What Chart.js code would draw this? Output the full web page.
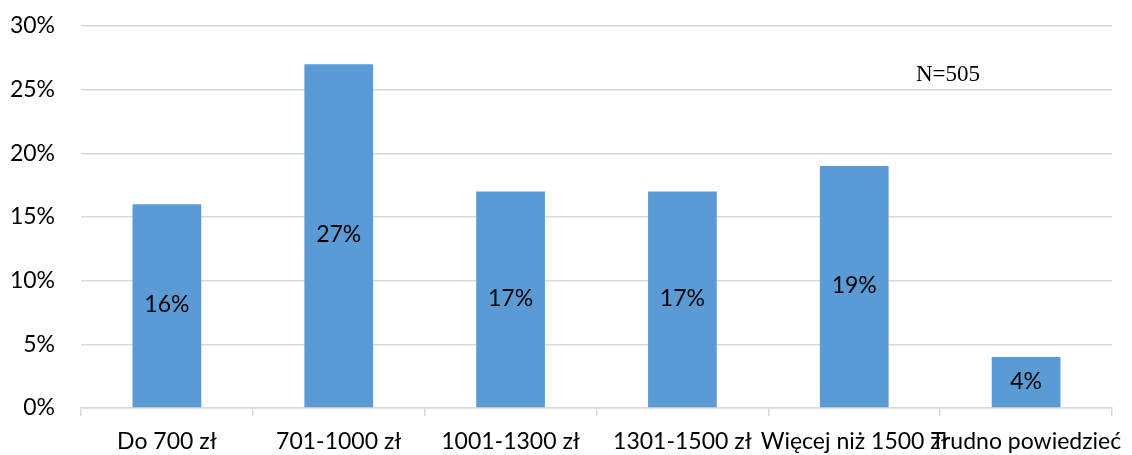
<!DOCTYPE html>
<html>
<head>
<meta charset="utf-8">
<script src="https://cdn.jsdelivr.net/npm/chart.js@4/dist/chart.umd.min.js"></script>
<style>
  html, body { margin: 0; padding: 0; background: #fff; }
  #wrap { width: 1132px; height: 455px; position: relative; }
</style>
</head>
<body>
<div id="wrap"><canvas id="c"></canvas></div>
<script>
// Income brackets and share of respondents (%)
const categories = ['Do 700 zł', '701-1000 zł', '1001-1300 zł', '1301-1500 zł', 'Więcej niż 1500 zł', 'Trudno powiedzieć'];
const shares = [16, 27, 17, 17, 19, 4];
const yTicks = [0, 5, 10, 15, 20, 25, 30];
const sampleNote = 'N=505';

const FONT = 'Lato, "Open Sans", sans-serif';
const FONT_SIZE = 23;

// Writes each bar's value in the middle of the bar
const valueLabels = {
  id: 'valueLabels',
  afterDatasetsDraw(chart) {
    const ctx = chart.ctx;
    const meta = chart.getDatasetMeta(0);
    ctx.save();
    ctx.font = FONT_SIZE + 'px ' + FONT;
    ctx.fillStyle = '#000';
    ctx.textAlign = 'center';
    ctx.textBaseline = 'middle';
    meta.data.forEach((bar, i) => {
      const mid = (bar.y + bar.base) / 2;
      ctx.fillText(shares[i] + '%', bar.x, mid - 1);
    });
    ctx.restore();
  }
};

// Sample-size note in the upper right of the plot
const noteLabel = {
  id: 'noteLabel',
  afterDraw(chart) {
    const ctx = chart.ctx;
    const area = chart.chartArea;
    ctx.save();
    ctx.font = '23px "Liberation Serif", "Times New Roman", serif';
    ctx.fillStyle = '#000';
    ctx.textAlign = 'left';
    ctx.textBaseline = 'middle';
    ctx.fillText(sampleNote, area.left + 835, area.top + 49);
    ctx.restore();
  }
};

new Chart(document.getElementById('c'), {
  type: 'bar',
  data: {
    labels: categories,
    datasets: [{
      data: shares,
      backgroundColor: '#5B9BD5',
      borderWidth: 0,
      categoryPercentage: 1,
      barPercentage: 0.4
    }]
  },
  options: {
    responsive: true,
    maintainAspectRatio: false,
    animation: false,
    layout: { padding: { top: 26, right: 20, left: 0, bottom: 0 } },
    plugins: {
      legend: { display: false },
      tooltip: { enabled: false }
    },
    scales: {
      y: {
        min: 0,
        max: 30,
        afterBuildTicks(scale) { scale.ticks = yTicks.map(v => ({ value: v })); },
        afterFit(scale) {
          scale.width = 81;
          scale.paddingTop = 0;
          scale.paddingBottom = 0;
        },
        ticks: {
          padding: 26,
          color: '#000',
          font: { family: FONT, size: FONT_SIZE },
          callback: v => v + '%'
        },
        grid: { color: '#d9d9d9', lineWidth: 1.5, drawTicks: false },
        border: { display: false }
      },
      x: {
        afterFit(scale) {
          scale.height = 47;
          scale.paddingLeft = 0;
          scale.paddingRight = 0;
        },
        ticks: {
          autoSkip: false,
          maxRotation: 0,
          minRotation: 0,
          padding: 12,
          color: '#000',
          font: { family: FONT, size: FONT_SIZE }
        },
        grid: { drawOnChartArea: false, color: '#d9d9d9', lineWidth: 1.5, tickLength: 8 },
        border: { color: '#d9d9d9', width: 1.5 }
      }
    }
  },
  plugins: [valueLabels, noteLabel]
});
</script>
</body>
</html>
